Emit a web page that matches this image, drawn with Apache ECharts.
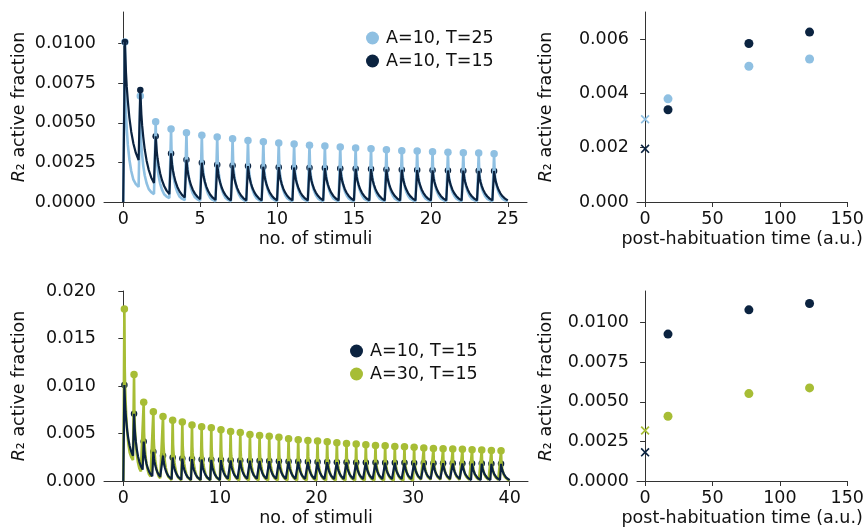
<!DOCTYPE html>
<html>
<head>
<meta charset="utf-8">
<script src="https://cdn.jsdelivr.net/npm/echarts@6/dist/echarts.min.js"></script>
<style>
html, body { margin: 0; padding: 0; background: #fff; }
#container { width: 867px; height: 529px; }
</style>
</head>
<body>
<div id="container"></div>
<script>
// peak value at each stimulus (index = stimulus no.)
var lightPeaksTop = [0.0101, 0.0067, 0.00507, 0.00461, 0.00438, 0.00421, 0.0041, 0.004, 0.00389, 0.00381,
    0.00373, 0.00366, 0.00358, 0.00354, 0.00347, 0.00341, 0.00337, 0.0033, 0.00324, 0.00322,
    0.00318, 0.00315, 0.00311, 0.00309, 0.00305];
var navyPeaksTop = [0.0101, 0.00707, 0.00415, 0.00307, 0.00267, 0.00248, 0.00236, 0.00231, 0.00227, 0.00223,
    0.0022, 0.00218, 0.00216, 0.00214, 0.00212, 0.0021, 0.00208, 0.00206, 0.00204, 0.00202,
    0.002, 0.00199, 0.00198, 0.00197, 0.00196];
var navyPeaksBottom = [0.0101, 0.00707, 0.00415, 0.00307, 0.00267, 0.00248, 0.00236, 0.00231, 0.00227, 0.00223,
    0.0022, 0.00218, 0.00216, 0.00214, 0.00212, 0.0021, 0.00208, 0.00206, 0.00204, 0.00202,
    0.002, 0.00199, 0.00198, 0.00197, 0.00196, 0.00195, 0.00194, 0.00193, 0.00192, 0.00191,
    0.0019, 0.00189, 0.00188, 0.00187, 0.00186, 0.00185, 0.00184, 0.00183, 0.00182, 0.00181];
var greenPeaksBottom = [0.0181, 0.0112, 0.0083, 0.0073, 0.0068, 0.0064, 0.0062, 0.0059, 0.0057, 0.0056,
    0.0054, 0.0052, 0.0051, 0.0049, 0.0048, 0.0047, 0.0046, 0.00445, 0.00434, 0.00427,
    0.0042, 0.00413, 0.00403, 0.00396, 0.00389, 0.00382, 0.00375, 0.00371, 0.00364, 0.0036,
    0.00354, 0.00347, 0.00343, 0.0034, 0.00336, 0.00333, 0.00329, 0.00326, 0.00322, 0.00318];

// value just before each stimulus (last entry repeats for the rest)
var lightTroughs = [0, 0.00095, 0.0005, 0.00025, 0.00012, 0.00008, 0.00005];
var navyTroughs = [0, 0.00265, 0.0012, 0.0005, 0.00028, 0.00018, 0.00013, 0.0001];
var greenTroughs = [0, 0.0022, 0.0008, 0.0003, 0.00015, 0.0001, 0.00007];

// decay shape within one interval
var peakOffset = 0.11;
var decayOffsets = [0.15, 0.18, 0.23, 0.3, 0.4, 0.52, 0.66, 0.82, 1.0];
var fastDecay = [0.6, 0.5, 0.4, 0.29, 0.19, 0.11, 0.05, 0.02, 0];
var slowDecay = [0.85, 0.74, 0.62, 0.5, 0.36, 0.24, 0.14, 0.06, 0];

// post-habituation recovery
var recoveryTimes = [17, 77, 122];
var lightRecovery = [0.0038, 0.0050, 0.00527];
var navyRecoveryTop = [0.0034, 0.00584, 0.00626];
var navyRecoveryBottom = [0.00928, 0.01081, 0.01121];
var greenRecovery = [0.00409, 0.00552, 0.00588];
var lightLast = 0.00305, navyLastTop = 0.00196, navyLastBottom = 0.00181, greenLast = 0.00319;

var LIGHT = '#8fc0e2', NAVY = '#0b2340', GREEN = '#a7bd35';
var TXT = '#111111', AX = '#333333';
var FONT = 'DejaVu Sans', FS = 17.5;
var CROSS = 'path://M0,1.3L1.3,0L5,3.7L8.7,0L10,1.3L6.3,5L10,8.7L8.7,10L5,6.3L1.3,10L0,8.7L3.7,5Z';

function tr(arr, k) { return k < arr.length ? arr[k] : arr[arr.length - 1]; }

function buildCurve(peaks, troughs, frac) {
    var pts = [];
    for (var k = 0; k < peaks.length; k++) {
        var start = tr(troughs, k), end = tr(troughs, k + 1);
        pts.push([k, start]);
        pts.push([k + peakOffset, peaks[k]]);
        for (var j = 0; j < decayOffsets.length; j++) {
            pts.push([k + decayOffsets[j], end + (peaks[k] - end) * frac[j]]);
        }
    }
    return pts;
}
function peakDots(peaks) {
    return peaks.map(function (v, k) { return [k + peakOffset, v]; });
}
function pairs(xs, ys) {
    return xs.map(function (x, i) { return [x, ys[i]]; });
}

function xAx(idx, min, max, ticks, name) {
    return {
        type: 'value', gridIndex: idx, min: min, max: max,
        name: name, nameLocation: 'middle', nameGap: 28,
        nameTextStyle: { fontFamily: FONT, fontSize: FS, color: TXT },
        axisLine: { show: true, onZero: false, lineStyle: { color: AX, width: 1 } },
        axisTick: { show: true, length: 5, customValues: ticks, lineStyle: { color: AX } },
        axisLabel: { customValues: ticks, margin: 8, fontFamily: FONT, fontSize: FS, color: TXT },
        splitLine: { show: false }
    };
}
function yAx(idx, max, ticks, dec, gap) {
    return {
        type: 'value', gridIndex: idx, min: 0, max: max,
        name: '{i|R}\u2082 active fraction', nameLocation: 'middle', nameRotate: 90, nameGap: gap,
        nameTextStyle: { fontFamily: FONT, fontSize: FS, color: TXT,
            rich: { i: { fontStyle: 'italic', fontFamily: FONT, fontSize: FS, color: TXT } } },
        axisLine: { show: true, lineStyle: { color: AX, width: 1 } },
        axisTick: { show: true, length: 5, customValues: ticks, lineStyle: { color: AX } },
        axisLabel: { customValues: ticks, margin: 8, fontFamily: FONT, fontSize: FS, color: TXT,
            formatter: function (v) { return v.toFixed(dec); } },
        splitLine: { show: false }
    };
}
function curve(name, x, y, data, color, w) {
    return { name: name, type: 'line', xAxisIndex: x, yAxisIndex: y, data: data, showSymbol: false,
        lineStyle: { color: color, width: w }, itemStyle: { color: color } };
}
function dots(name, x, y, data, color, size, symbol) {
    return { name: name, type: 'scatter', xAxisIndex: x, yAxisIndex: y, data: data,
        symbol: symbol || 'circle', symbolSize: size, itemStyle: { color: color, opacity: 1 } };
}

var myChart = echarts.init(document.getElementById('container'));
var option = {
    animation: false,
    backgroundColor: '#fff',
    grid: [
        { left: 104, top: 12, width: 423, height: 190 },
        { left: 637, top: 12, width: 212, height: 190 },
        { left: 104, top: 291, width: 424, height: 190 },
        { left: 637, top: 291, width: 212, height: 190 }
    ],
    xAxis: [
        xAx(0, -1.25, 26.25, [0, 5, 10, 15, 20, 25], 'no. of stimuli'),
        xAx(1, -6, 150, [0, 50, 100, 150], 'post-habituation time (a.u.)'),
        xAx(2, -2, 41.9, [0, 10, 20, 30, 40], 'no. of stimuli'),
        xAx(3, -6, 150, [0, 50, 100, 150], 'post-habituation time (a.u.)')
    ],
    yAxis: [
        yAx(0, 0.012, [0, 0.0025, 0.005, 0.0075, 0.01], 4, 76),
        yAx(1, 0.007, [0, 0.002, 0.004, 0.006], 3, 82),
        yAx(2, 0.02, [0, 0.005, 0.01, 0.015, 0.02], 3, 76),
        yAx(3, 0.012, [0, 0.0025, 0.005, 0.0075, 0.01], 4, 82)
    ],
    legend: [
        { data: [{ name: 'A=10, T=25', icon: 'circle' }, { name: 'A=10, T=15', icon: 'circle' }],
          orient: 'vertical', left: 361, top: 23, itemWidth: 13, itemHeight: 13, itemGap: 3,
          textStyle: { fontFamily: FONT, fontSize: FS, color: TXT, lineHeight: 20, padding: [0, 0, 0, 2] } },
        { data: [{ name: 'A=10, T=15', icon: 'circle' }, { name: 'A=30, T=15', icon: 'circle' }],
          orient: 'vertical', left: 345, top: 336, itemWidth: 13, itemHeight: 13, itemGap: 3,
          textStyle: { fontFamily: FONT, fontSize: FS, color: TXT, lineHeight: 20, padding: [0, 0, 0, 2] } }
    ],
    series: [
        curve('c1', 0, 0, buildCurve(lightPeaksTop, lightTroughs, fastDecay), LIGHT, 2.6),
        curve('c2', 0, 0, buildCurve(navyPeaksTop, navyTroughs, slowDecay), NAVY, 2.2),
        dots('A=10, T=25', 0, 0, peakDots(lightPeaksTop), LIGHT, 7.5),
        dots('A=10, T=15', 0, 0, peakDots(navyPeaksTop), NAVY, 6.5),

        dots('r1', 1, 1, pairs(recoveryTimes, lightRecovery), LIGHT, 9),
        dots('r2', 1, 1, pairs(recoveryTimes, navyRecoveryTop), NAVY, 9),
        dots('x1', 1, 1, [[0, lightLast]], LIGHT, 9, CROSS),
        dots('x2', 1, 1, [[0, navyLastTop]], NAVY, 9, CROSS),

        curve('c3', 2, 2, buildCurve(greenPeaksBottom, greenTroughs, fastDecay), GREEN, 2.6),
        curve('c4', 2, 2, buildCurve(navyPeaksBottom, navyTroughs, slowDecay), NAVY, 2.2),
        dots('A=30, T=15', 2, 2, peakDots(greenPeaksBottom), GREEN, 7.5),
        dots('d4', 2, 2, peakDots(navyPeaksBottom), NAVY, 6.5),

        dots('r3', 3, 3, pairs(recoveryTimes, navyRecoveryBottom), NAVY, 9),
        dots('r4', 3, 3, pairs(recoveryTimes, greenRecovery), GREEN, 9),
        dots('x3', 3, 3, [[0, greenLast]], GREEN, 9, CROSS),
        dots('x4', 3, 3, [[0, navyLastBottom]], NAVY, 9, CROSS)
    ]
};

if (option && typeof option === 'object') {
    myChart.setOption(option);
}
</script>
</body>
</html>
